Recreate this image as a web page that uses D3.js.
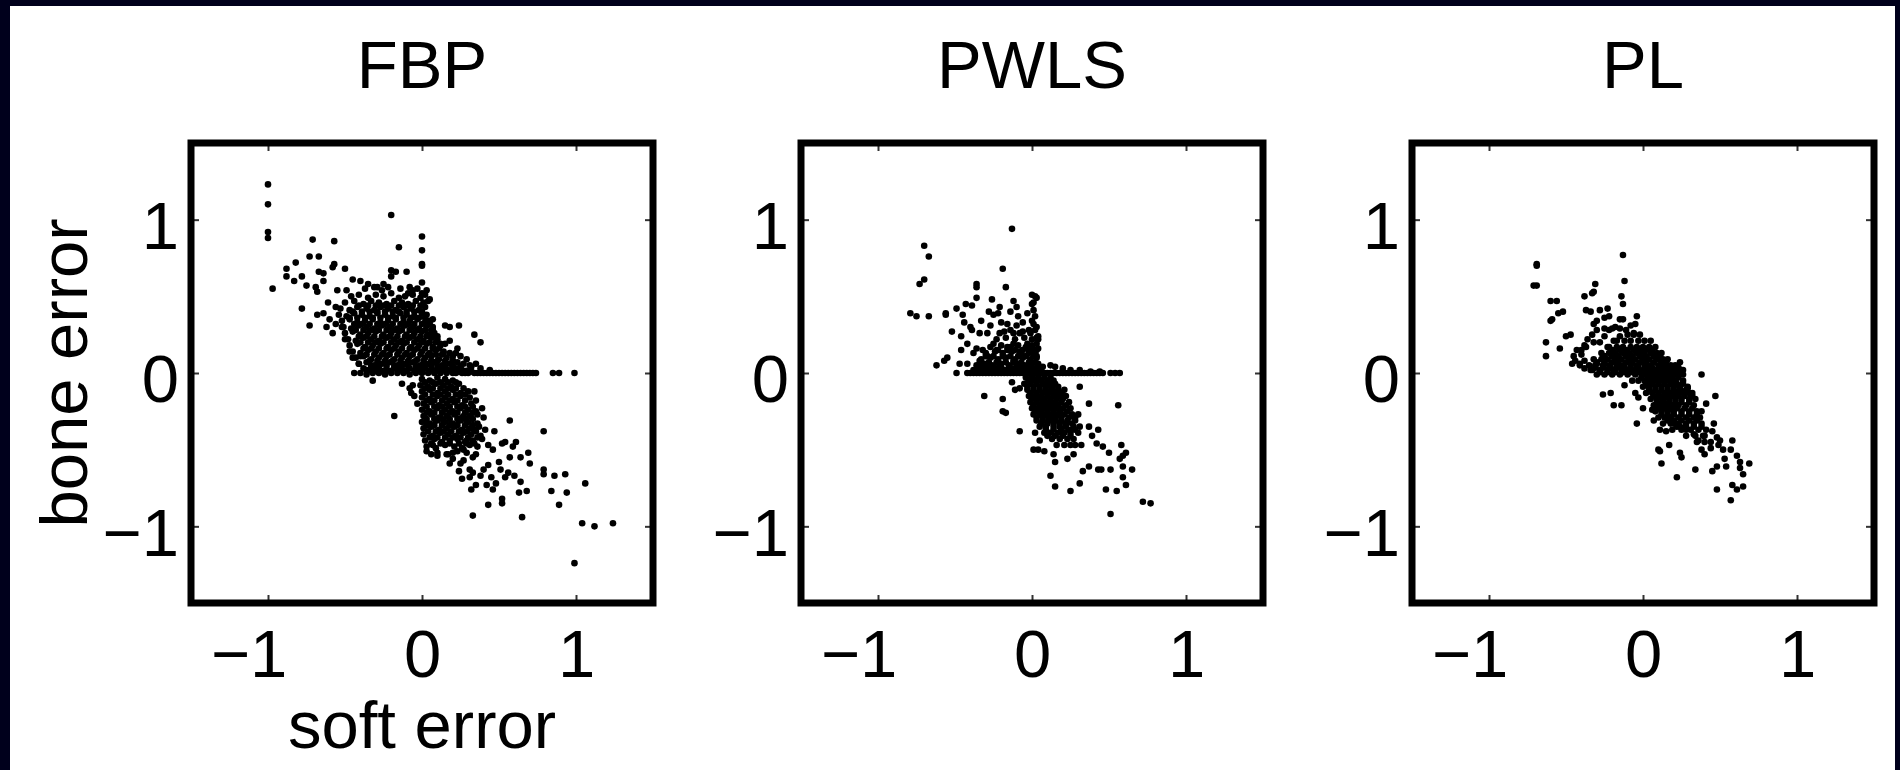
<!DOCTYPE html>
<html>
<head>
<meta charset="utf-8">
<script src="https://cdn.jsdelivr.net/npm/d3@7"></script>
<style>
html, body { margin: 0; padding: 0; background: #00001c; }
svg { display: block; }
</style>
</head>
<body>
<svg id="chart" width="1900" height="770"></svg>
<script>
// Panel titles, shared axis settings and axis titles
const panelTitles = ["FBP", "PWLS", "PL"];
const tickValues = [-1, 0, 1];
const axisDomain = [-1.5, 1.5];
const xAxisTitle = "soft error";
const yAxisTitle = "bone error";

// [soft error, bone error] pairs, one list per reconstruction method
const fbpPoints = [
  [-1.00,1.23],[-1.00,1.10],[-1.00,0.92],[-1.00,0.88],[-0.97,0.55],
  [-0.71,0.87],[-0.57,0.86],[-0.82,0.72],[-0.88,0.68],[-0.88,0.63],[-0.83,0.60],[-0.78,0.63],
  [-0.73,0.76],[-0.67,0.76],[-0.67,0.66],[-0.64,0.65],[-0.75,0.57],[-0.69,0.56],[-0.68,0.53],
  [-0.64,0.60],[-0.58,0.69],[-0.57,0.71],[-0.50,0.68],[-0.55,0.54],[-0.49,0.54],[-0.78,0.42],
  [-0.73,0.31],[-0.68,0.38],[-0.64,0.39],[-0.58,0.26],[-0.56,0.32],[-0.61,0.46],[-0.56,0.43],
  [-0.45,0.61],[-0.40,0.60],[-0.20,0.67],[-0.17,0.66],[-0.10,0.66],[-0.20,0.63],
  [-0.20,1.03],[-0.15,0.82],[0.00,0.89],[0.00,0.80],[0.00,0.71],[0.00,0.70],[0.00,0.59],
  [0.00,0.52],[0.02,0.51],[-0.06,0.54],[-0.09,0.52],[-0.25,0.58],[-0.29,0.56],[-0.35,0.58],
  [0.03,0.54],[0.05,0.48],[0.04,0.47],[0.07,0.35],
  [-0.37,0.55],[-0.31,0.56],[-0.26,0.54],[-0.22,0.56],[-0.14,0.55],[-0.08,0.56],[-0.03,0.55],
  [-0.46,0.50],[-0.41,0.51],[-0.35,0.49],[-0.30,0.51],[-0.25,0.50],[-0.20,0.52],[-0.15,0.49],[-0.11,0.50],[-0.06,0.51],[-0.01,0.49],
  [-0.50,0.46],[-0.44,0.47],[-0.38,0.45],[-0.33,0.47],[-0.28,0.46],[-0.23,0.45],[-0.18,0.47],[-0.13,0.46],[-0.09,0.45],[-0.04,0.47],[0.01,0.46],
  [-0.53,0.42],[-0.47,0.41],[-0.42,0.43],[-0.36,0.42],[-0.31,0.41],[-0.27,0.43],[-0.22,0.42],[-0.17,0.41],[-0.12,0.43],[-0.07,0.42],[-0.02,0.41],[0.02,0.43],
  [-0.54,0.38],[-0.49,0.37],[-0.44,0.39],[-0.39,0.38],[-0.34,0.37],[-0.29,0.39],[-0.24,0.38],[-0.19,0.37],[-0.14,0.39],[-0.10,0.38],[-0.05,0.37],[0.00,0.39],[0.03,0.38],
  [-0.52,0.34],[-0.47,0.35],[-0.42,0.33],[-0.37,0.34],[-0.32,0.35],[-0.27,0.33],[-0.22,0.34],[-0.17,0.35],[-0.12,0.33],[-0.08,0.34],[-0.03,0.35],[0.02,0.33],[0.05,0.34],
  [-0.51,0.30],[-0.46,0.29],[-0.41,0.31],[-0.36,0.30],[-0.31,0.29],[-0.26,0.31],[-0.21,0.30],[-0.16,0.29],[-0.11,0.31],[-0.06,0.30],[-0.02,0.29],[0.03,0.31],[0.07,0.30],
  [-0.50,0.26],[-0.45,0.27],[-0.40,0.25],[-0.35,0.26],[-0.30,0.27],[-0.25,0.25],[-0.20,0.26],[-0.15,0.27],[-0.10,0.25],[-0.05,0.26],[0.00,0.27],[0.04,0.25],[0.08,0.26],
  [-0.48,0.22],[-0.43,0.21],[-0.38,0.23],[-0.33,0.22],[-0.28,0.21],[-0.23,0.23],[-0.18,0.22],[-0.13,0.21],[-0.08,0.23],[-0.03,0.22],[0.01,0.21],[0.06,0.23],[0.10,0.22],
  [-0.47,0.18],[-0.42,0.19],[-0.37,0.17],[-0.32,0.18],[-0.27,0.19],[-0.22,0.17],[-0.17,0.18],[-0.12,0.19],[-0.07,0.17],[-0.02,0.18],[0.03,0.19],[0.07,0.17],[0.12,0.18],[0.15,0.19],
  [-0.45,0.14],[-0.40,0.13],[-0.35,0.15],[-0.30,0.14],[-0.25,0.13],[-0.20,0.15],[-0.15,0.14],[-0.10,0.13],[-0.05,0.15],[0.00,0.14],[0.05,0.13],[0.09,0.15],[0.14,0.14],[0.18,0.13],
  [-0.43,0.10],[-0.38,0.11],[-0.33,0.09],[-0.28,0.10],[-0.23,0.11],[-0.18,0.09],[-0.13,0.10],[-0.08,0.11],[-0.03,0.09],[0.02,0.10],[0.06,0.11],[0.11,0.09],[0.16,0.10],[0.20,0.11],
  [-0.41,0.06],[-0.36,0.07],[-0.31,0.05],[-0.26,0.06],[-0.21,0.07],[-0.16,0.05],[-0.11,0.06],[-0.06,0.07],[-0.01,0.05],[0.04,0.06],[0.08,0.07],[0.13,0.05],[0.18,0.06],[0.23,0.07],
  [-0.38,0.03],[-0.33,0.02],[-0.28,0.03],[-0.23,0.02],[-0.18,0.03],[-0.13,0.02],[-0.08,0.03],[-0.03,0.02],[0.02,0.03],[0.07,0.02],[0.12,0.03],[0.17,0.02],[0.22,0.03],[0.26,0.02],
  [-0.44,0.00],[-0.40,0.00],[-0.36,-0.01],[-0.32,0.00],[-0.28,0.00],[-0.24,-0.01],[-0.20,0.00],[-0.16,0.00],[-0.12,0.00],[-0.08,-0.01],[-0.04,0.00],[0.00,0.00],
  [0.04,0.00],[0.08,0.00],[0.12,0.00],[0.16,0.00],[0.20,0.00],[0.22,0.00],[0.24,0.01],[0.26,0.00],[0.28,0.00],[0.30,0.00],[0.32,0.01],[0.34,0.00],
  [0.36,0.00],[0.38,0.00],[0.40,0.00],[0.42,0.00],[0.44,0.00],[0.46,0.00],[0.48,0.00],[0.50,0.00],[0.52,0.00],[0.54,0.00],[0.56,0.00],[0.58,0.00],
  [0.60,0.00],[0.62,0.00],[0.64,0.00],[0.66,0.00],[0.68,0.00],[0.70,0.00],[0.72,0.00],[0.74,0.00],[0.85,0.00],[0.89,0.00],[0.99,0.00],
  [0.10,0.24],[0.12,0.19],[0.18,0.21],[0.14,0.13],[0.20,0.08],[0.27,0.06],[0.32,0.04],[0.38,0.03],[0.44,0.02],[0.07,0.28],[0.04,0.32],
  [0.15,0.31],[0.18,0.30],[0.24,0.31],[0.23,0.16],[0.34,0.25],[0.38,0.20],[0.25,0.11],[0.29,0.09],[0.31,0.05],[0.35,0.06],[0.22,0.13],
  [-0.40,0.11],[-0.41,0.06],[-0.36,0.02],[-0.52,0.30],[-0.50,0.22],[-0.47,0.14],[-0.45,0.10],[-0.60,0.35],[-0.62,0.30],
  [-0.32,-0.05],[-0.18,-0.28],[-0.13,-0.07],[-0.08,-0.10],[-0.07,-0.13],[-0.05,-0.15],[-0.06,-0.08],[-0.03,-0.20],
  [0.00,-0.04],[0.05,-0.05],[0.10,-0.03],[0.15,-0.04],[0.20,-0.05],
  [-0.01,-0.08],[0.04,-0.09],[0.09,-0.07],[0.14,-0.08],[0.19,-0.09],[0.24,-0.07],
  [0.00,-0.12],[0.05,-0.11],[0.10,-0.13],[0.15,-0.12],[0.20,-0.11],[0.25,-0.13],[0.30,-0.12],
  [0.00,-0.16],[0.05,-0.17],[0.10,-0.15],[0.15,-0.16],[0.20,-0.17],[0.25,-0.15],[0.31,-0.16],
  [0.01,-0.20],[0.06,-0.19],[0.11,-0.21],[0.16,-0.20],[0.21,-0.19],[0.26,-0.21],[0.32,-0.20],
  [0.00,-0.24],[0.05,-0.25],[0.10,-0.23],[0.15,-0.24],[0.20,-0.25],[0.25,-0.23],[0.30,-0.24],[0.35,-0.25],
  [0.01,-0.28],[0.06,-0.27],[0.11,-0.29],[0.16,-0.28],[0.21,-0.27],[0.26,-0.29],[0.31,-0.28],[0.36,-0.27],
  [0.00,-0.32],[0.05,-0.33],[0.10,-0.31],[0.15,-0.32],[0.20,-0.33],[0.25,-0.31],[0.30,-0.32],[0.36,-0.33],
  [0.01,-0.36],[0.06,-0.35],[0.11,-0.37],[0.16,-0.36],[0.21,-0.35],[0.26,-0.37],[0.31,-0.36],[0.37,-0.35],[0.41,-0.37],
  [0.01,-0.40],[0.07,-0.41],[0.12,-0.39],[0.17,-0.40],[0.22,-0.41],[0.27,-0.39],[0.32,-0.40],[0.38,-0.41],
  [0.02,-0.44],[0.08,-0.43],[0.13,-0.45],[0.18,-0.44],[0.23,-0.43],[0.28,-0.45],[0.33,-0.44],[0.39,-0.43],
  [0.03,-0.48],[0.09,-0.49],[0.15,-0.47],[0.21,-0.48],[0.26,-0.49],[0.31,-0.47],[0.36,-0.48],
  [0.10,-0.52],[0.17,-0.53],[0.23,-0.51],[0.29,-0.52],[0.35,-0.53],
  [0.20,-0.56],[0.27,-0.57],[0.33,-0.55],
  [0.57,-0.31],[0.61,-0.45],[0.59,-0.48],[0.57,-0.55],[0.64,-0.55],[0.54,-0.68],[0.48,-0.72],[0.46,-0.76],[0.45,-0.68],
  [0.35,-0.73],[0.32,-0.76],[0.26,-0.69],[0.33,-0.65],[0.40,-0.63],[0.43,-0.60],[0.50,-0.58],[0.25,-0.59],[0.18,-0.59],
  [0.20,-0.52],[0.27,-0.50],[0.29,-0.44],[0.34,-0.37],[0.40,-0.29],[0.39,-0.23],[0.35,-0.18],[0.34,-0.12],
  [0.69,-0.52],[0.70,-0.59],[0.63,-0.78],[0.68,-0.77],[0.56,-0.65],[0.64,-0.71],[0.52,-0.85],[0.52,-0.82],[0.43,-0.86],
  [0.33,-0.93],[0.65,-0.94],[0.79,-0.63],[0.79,-0.66],[0.86,-0.67],[0.93,-0.66],[0.84,-0.77],[0.94,-0.78],[0.89,-0.86],
  [0.79,-0.38],[1.06,-0.72],[1.04,-0.98],[1.12,-1.00],[1.24,-0.98],[0.99,-1.24],
  [0.47,-0.38],[0.52,-0.46],[0.54,-0.45],[0.46,-0.50],[0.43,-0.47],[0.51,-0.63],[0.60,-0.67],[0.38,-0.67],[0.31,-0.68],
  [0.42,-0.73],[0.31,-0.63],[0.24,-0.64],[0.16,-0.53],[0.10,-0.54],[0.06,-0.53],[0.03,-0.51],[0.07,-0.47],[0.27,-0.28]
];

// densest part of the FBP clusters
const fbpCorePoints = [
  [-0.41,0.44],[-0.35,0.44],[-0.30,0.44],[-0.25,0.44],[-0.20,0.44],[-0.15,0.44],[-0.10,0.44],[-0.06,0.44],[-0.01,0.44],
  [-0.45,0.40],[-0.39,0.40],[-0.34,0.40],[-0.29,0.40],[-0.24,0.40],[-0.19,0.40],[-0.15,0.40],[-0.10,0.40],[-0.05,0.40],[0.00,0.40],
  [-0.47,0.36],[-0.42,0.36],[-0.37,0.36],[-0.32,0.36],[-0.27,0.36],[-0.22,0.36],[-0.17,0.36],[-0.12,0.36],[-0.07,0.36],[-0.02,0.36],[0.02,0.36],
  [-0.44,0.32],[-0.39,0.32],[-0.34,0.32],[-0.29,0.32],[-0.24,0.32],[-0.19,0.32],[-0.14,0.32],[-0.09,0.32],[-0.05,0.32],[0.00,0.32],[0.05,0.32],
  [-0.43,0.28],[-0.38,0.28],[-0.33,0.28],[-0.28,0.28],[-0.23,0.28],[-0.18,0.28],[-0.13,0.28],[-0.08,0.28],[-0.03,0.28],[0.02,0.28],[0.06,0.28],
  [-0.41,0.24],[-0.36,0.24],[-0.31,0.24],[-0.26,0.24],[-0.21,0.24],[-0.16,0.24],[-0.11,0.24],[-0.06,0.24],[-0.01,0.24],[0.03,0.24],[0.07,0.24],
  [-0.40,0.20],[-0.35,0.20],[-0.30,0.20],[-0.25,0.20],[-0.20,0.20],[-0.15,0.20],[-0.10,0.20],[-0.05,0.20],[0.00,0.20],[0.05,0.20],[0.09,0.20],
  [-0.38,0.16],[-0.33,0.16],[-0.28,0.16],[-0.23,0.16],[-0.18,0.16],[-0.13,0.16],[-0.08,0.16],[-0.03,0.16],[0.02,0.16],[0.07,0.16],[0.11,0.16],
  [-0.36,0.12],[-0.31,0.12],[-0.26,0.12],[-0.21,0.12],[-0.16,0.12],[-0.11,0.12],[-0.06,0.12],[-0.01,0.12],[0.04,0.12],[0.09,0.12],[0.13,0.12],
  [-0.34,0.08],[-0.29,0.08],[-0.24,0.08],[-0.19,0.08],[-0.14,0.08],[-0.09,0.08],[-0.04,0.08],[0.01,0.08],[0.06,0.08],[0.10,0.08],[0.15,0.08],[0.20,0.08],
  [-0.33,0.045],[-0.28,0.045],[-0.23,0.045],[-0.18,0.045],[-0.13,0.045],[-0.09,0.045],[-0.04,0.045],[0.01,0.045],[0.06,0.045],[0.10,0.045],[0.15,0.045],[0.20,0.045],[0.25,0.045],
  [-0.35,0.015],[-0.30,0.015],[-0.25,0.015],[-0.20,0.015],[-0.15,0.015],[-0.10,0.015],[-0.05,0.015],[0.00,0.015],[0.05,0.015],[0.10,0.015],[0.15,0.015],[0.19,0.015],[0.24,0.015],[0.29,0.015],
  [0.02,-0.06],[0.07,-0.06],[0.12,-0.06],[0.17,-0.06],[0.22,-0.06],
  [0.02,-0.10],[0.07,-0.10],[0.12,-0.10],[0.17,-0.10],[0.22,-0.10],[0.27,-0.10],
  [0.02,-0.14],[0.07,-0.14],[0.12,-0.14],[0.17,-0.14],[0.22,-0.14],[0.28,-0.14],
  [0.03,-0.18],[0.08,-0.18],[0.13,-0.18],[0.18,-0.18],[0.23,-0.18],[0.28,-0.18],
  [0.03,-0.22],[0.08,-0.22],[0.13,-0.22],[0.18,-0.22],[0.23,-0.22],[0.28,-0.22],[0.33,-0.22],
  [0.03,-0.26],[0.08,-0.26],[0.13,-0.26],[0.18,-0.26],[0.23,-0.26],[0.28,-0.26],[0.33,-0.26],
  [0.03,-0.30],[0.08,-0.30],[0.13,-0.30],[0.18,-0.30],[0.23,-0.30],[0.28,-0.30],[0.33,-0.30],
  [0.03,-0.34],[0.08,-0.34],[0.13,-0.34],[0.18,-0.34],[0.23,-0.34],[0.28,-0.34],[0.33,-0.34],
  [0.04,-0.38],[0.09,-0.38],[0.14,-0.38],[0.19,-0.38],[0.24,-0.38],[0.29,-0.38],[0.35,-0.38],
  [0.05,-0.42],[0.10,-0.42],[0.15,-0.42],[0.20,-0.42],[0.25,-0.42],[0.30,-0.42],[0.36,-0.42],
  [0.06,-0.46],[0.12,-0.46],[0.18,-0.46],[0.24,-0.46],[0.29,-0.46],[0.34,-0.46]
];

const pwlsPoints = [
  [-0.13,0.94],[-0.70,0.83],[-0.67,0.76],[-0.70,0.61],[-0.73,0.58],[-0.79,0.39],[-0.75,0.37],[-0.67,0.37],
  [-0.19,0.68],[-0.36,0.58],[-0.36,0.56],[-0.17,0.56],[0.00,0.51],[0.03,0.49],[0.01,0.46],[-0.26,0.48],
  [-0.36,0.49],[-0.43,0.45],[-0.39,0.44],[-0.49,0.42],[-0.56,0.39],[-0.56,0.38],[-0.45,0.38],[-0.52,0.27],
  [-0.62,0.05],[-0.57,0.08],[-0.55,0.10],[-0.49,0.00],[-0.28,0.40],[-0.39,0.28],[-0.34,0.26],[-0.47,0.06],
  [-0.44,0.33],[-0.40,0.30],[-0.46,0.24],[-0.46,0.15],[-0.36,0.16],[-0.42,0.19],[-0.29,0.26],[-0.33,0.34],
  [-0.27,0.31],[-0.25,0.38],[-0.21,0.43],[-0.22,0.39],[-0.14,0.40],[-0.12,0.47],[-0.10,0.43],[-0.09,0.37],
  [-0.03,0.39],[-0.06,0.33],[-0.02,0.28],[0.01,0.32],[0.02,0.28],[0.04,0.24],[0.03,0.19],[-0.03,0.19],
  [-0.08,0.26],[-0.14,0.28],[-0.16,0.32],[-0.21,0.26],[-0.25,0.19],[-0.32,0.15],[-0.38,0.13],[-0.42,0.06],
  [-0.34,0.08],[-0.29,0.11],[-0.23,0.15],[-0.16,0.17],[-0.12,0.19],[-0.08,0.14],[-0.02,0.13],[0.01,0.15],
  [0.04,0.06],[0.07,0.04],[-0.12,0.08],[-0.21,0.06],[-0.27,0.04],[-0.34,0.03],[-0.08,0.05],[-0.03,0.04],
  [-0.38,0.02],[-0.33,0.03],[-0.28,0.02],[-0.23,0.03],[-0.18,0.02],[-0.13,0.03],[-0.08,0.02],[-0.03,0.03],[0.02,0.02],[0.06,0.03],
  [-0.36,0.05],[-0.31,0.06],[-0.26,0.05],[-0.20,0.06],[-0.15,0.05],[-0.10,0.06],[-0.05,0.05],[0.00,0.06],[0.04,0.05],
  [-0.33,0.09],[-0.27,0.10],[-0.22,0.09],[-0.17,0.10],[-0.11,0.09],[-0.06,0.10],[-0.01,0.09],[0.03,0.10],
  [-0.30,0.13],[-0.24,0.14],[-0.19,0.13],[-0.13,0.14],[-0.07,0.13],[-0.02,0.14],[0.02,0.13],
  [-0.27,0.17],[-0.20,0.18],[-0.14,0.17],[-0.09,0.18],[-0.04,0.17],[0.00,0.18],
  [-0.23,0.22],[-0.17,0.23],[-0.11,0.22],[-0.05,0.23],[0.00,0.22],[0.03,0.23],
  [-0.18,0.27],[-0.12,0.26],[-0.06,0.27],[-0.01,0.26],[-0.20,0.33],[-0.10,0.31],
  [0.02,0.50],[0.00,0.45],[0.01,0.41],[0.02,0.37],[0.00,0.34],[0.03,0.30],[0.04,0.22],[0.04,0.16],[0.03,0.11],
  [-0.42,0.00],[-0.40,0.00],[-0.38,0.00],[-0.36,0.00],[-0.34,0.00],[-0.32,0.00],[-0.30,0.00],[-0.28,0.00],
  [-0.26,0.00],[-0.24,0.00],[-0.22,0.00],[-0.20,0.00],[-0.18,0.00],[-0.16,0.00],[-0.14,0.00],[-0.12,0.00],
  [-0.10,0.00],[-0.08,0.00],[-0.06,0.00],[-0.04,0.00],[-0.02,0.00],[0.00,0.00],[0.02,0.00],[0.04,0.00],
  [0.06,0.00],[0.08,0.00],[0.10,0.00],[0.12,0.00],[0.14,0.00],[0.16,0.00],[0.18,0.00],[0.20,0.00],
  [0.22,0.00],[0.24,0.00],[0.26,0.00],[0.28,0.00],[0.30,0.00],[0.32,0.00],[0.34,0.00],[0.36,0.00],
  [0.38,0.00],[0.40,0.00],[0.42,0.00],[0.44,0.00],[0.46,0.00],[0.51,0.00],[0.54,0.00],[0.57,0.00],
  [0.20,0.03],[0.25,0.02],[0.31,0.02],[0.38,0.01],[0.44,0.01],[0.15,0.04],[0.12,0.05],
  [-0.31,-0.15],[-0.19,-0.17],[-0.19,-0.25],[-0.17,-0.26],[-0.08,-0.38],[-0.13,-0.06],[-0.08,-0.10],[-0.11,-0.11],
  [-0.04,-0.03],[0.00,-0.03],[0.04,-0.03],[0.08,-0.03],[0.12,-0.03],
  [-0.05,-0.07],[-0.01,-0.07],[0.03,-0.07],[0.07,-0.07],[0.11,-0.07],[0.15,-0.07],
  [-0.03,-0.11],[0.01,-0.11],[0.05,-0.11],[0.09,-0.11],[0.13,-0.11],[0.17,-0.11],[0.21,-0.11],
  [-0.02,-0.15],[0.02,-0.15],[0.06,-0.15],[0.10,-0.15],[0.14,-0.15],[0.18,-0.15],[0.22,-0.15],
  [-0.01,-0.19],[0.03,-0.19],[0.07,-0.19],[0.11,-0.19],[0.15,-0.19],[0.19,-0.19],[0.24,-0.19],
  [0.00,-0.23],[0.04,-0.23],[0.08,-0.23],[0.12,-0.23],[0.16,-0.23],[0.20,-0.23],[0.25,-0.23],
  [0.01,-0.27],[0.05,-0.27],[0.09,-0.27],[0.13,-0.27],[0.17,-0.27],[0.21,-0.27],[0.26,-0.27],[0.30,-0.27],
  [0.03,-0.31],[0.07,-0.31],[0.11,-0.31],[0.15,-0.31],[0.19,-0.31],[0.23,-0.31],[0.28,-0.31],
  [0.05,-0.35],[0.09,-0.35],[0.14,-0.35],[0.18,-0.35],[0.22,-0.35],[0.27,-0.35],[0.31,-0.35],
  [0.08,-0.39],[0.12,-0.39],[0.17,-0.39],[0.21,-0.39],[0.25,-0.39],[0.30,-0.39],
  [0.13,-0.43],[0.18,-0.43],[0.23,-0.43],[0.27,-0.43],[0.16,-0.47],[0.21,-0.47],[0.25,-0.47],
  [0.56,-0.21],[0.58,-0.47],[0.61,-0.52],[0.59,-0.54],[0.57,-0.56],[0.65,-0.63],[0.59,-0.61],[0.59,-0.68],
  [0.61,-0.73],[0.55,-0.77],[0.72,-0.84],[0.77,-0.85],[0.51,-0.92],[0.48,-0.76],[0.51,-0.63],[0.45,-0.63],
  [0.43,-0.63],[0.37,-0.61],[0.33,-0.64],[0.31,-0.72],[0.25,-0.77],[0.15,-0.74],[0.12,-0.67],[0.15,-0.58],
  [0.14,-0.53],[0.08,-0.51],[0.04,-0.50],[0.01,-0.50],[0.23,-0.56],[0.27,-0.53],[0.28,-0.47],[0.32,-0.47],
  [0.50,-0.52],[0.46,-0.48],[0.42,-0.46],[0.39,-0.41],[0.43,-0.37],[0.37,-0.35],[0.37,-0.20],[0.31,-0.09],
  [0.02,-0.39],[0.05,-0.44],[0.10,-0.41]
];

// densest part of the PWLS clusters
const pwlsCorePoints = [
  [-0.35,0.035],[-0.30,0.035],[-0.25,0.035],[-0.20,0.035],[-0.15,0.035],[-0.10,0.035],[-0.05,0.035],[0.00,0.035],[0.04,0.035],
  [-0.33,0.07],[-0.28,0.07],[-0.23,0.07],[-0.17,0.07],[-0.12,0.07],[-0.07,0.07],[-0.02,0.07],[0.02,0.07],
  [-0.30,0.11],[-0.25,0.11],[-0.19,0.11],[-0.14,0.11],[-0.09,0.11],[-0.04,0.11],[0.01,0.11],
  [-0.22,0.15],[-0.16,0.15],[-0.11,0.15],[-0.06,0.15],[-0.01,0.15],[0.03,0.15],
  [-0.02,-0.05],[0.02,-0.05],[0.06,-0.05],[0.10,-0.05],[0.14,-0.05],
  [-0.03,-0.09],[0.01,-0.09],[0.05,-0.09],[0.09,-0.09],[0.13,-0.09],[0.17,-0.09],
  [-0.01,-0.13],[0.03,-0.13],[0.07,-0.13],[0.11,-0.13],[0.15,-0.13],[0.19,-0.13],
  [0.00,-0.17],[0.04,-0.17],[0.08,-0.17],[0.12,-0.17],[0.16,-0.17],[0.20,-0.17],
  [0.01,-0.21],[0.05,-0.21],[0.09,-0.21],[0.13,-0.21],[0.17,-0.21],[0.22,-0.21],
  [0.02,-0.25],[0.06,-0.25],[0.10,-0.25],[0.14,-0.25],[0.18,-0.25],[0.23,-0.25],
  [0.03,-0.29],[0.07,-0.29],[0.11,-0.29],[0.15,-0.29],[0.19,-0.29],[0.24,-0.29],[0.28,-0.29],
  [0.06,-0.33],[0.10,-0.33],[0.14,-0.33],[0.18,-0.33],[0.22,-0.33],[0.26,-0.33],
  [0.09,-0.37],[0.14,-0.37],[0.19,-0.37],[0.24,-0.37],[0.28,-0.37],
  [0.15,-0.41],[0.20,-0.41],[0.25,-0.41]
];

const plPoints = [
  [-0.13,0.77],[-0.69,0.71],[-0.69,0.70],[-0.71,0.57],[-0.69,0.57],[-0.12,0.60],[-0.31,0.58],[-0.32,0.53],
  [-0.33,0.52],[-0.38,0.50],[-0.14,0.50],[-0.13,0.45],[-0.60,0.47],[-0.56,0.47],[-0.59,0.35],[-0.60,0.34],
  [-0.55,0.39],[-0.52,0.40],[-0.63,0.20],[-0.63,0.11],[-0.54,0.16],[-0.50,0.24],[-0.47,0.25],[-0.45,0.11],
  [-0.46,0.06],[-0.37,0.41],[-0.34,0.40],[-0.28,0.41],[-0.23,0.42],[-0.22,0.37],[-0.25,0.36],[-0.32,0.32],
  [-0.30,0.34],[-0.04,0.37],[-0.05,0.32],[-0.13,0.35],[-0.15,0.35],[-0.08,0.31],[-0.25,0.29],[-0.20,0.29],
  [-0.18,0.30],[-0.15,0.29],[-0.26,-0.14],[-0.21,-0.13],[-0.19,-0.21],[-0.14,-0.21],[-0.12,-0.08],[-0.07,-0.05],
  [-0.04,-0.33],[-0.05,-0.13],[-0.03,-0.16],[0.00,-0.23],[0.06,-0.24],[0.38,-0.01],[0.47,-0.15],[0.41,-0.20],
  [0.38,-0.25],[0.46,-0.33],[0.45,-0.38],[0.29,-0.10],[0.32,-0.13],[0.15,0.08],[0.24,0.07],[0.26,0.02],
  [0.58,-0.44],[0.57,-0.50],[0.61,-0.54],[0.63,-0.58],[0.69,-0.59],[0.65,-0.66],[0.58,-0.73],[0.61,-0.76],
  [0.65,-0.74],[0.63,-0.62],[0.57,-0.83],[0.48,-0.76],[0.45,-0.64],[0.48,-0.61],[0.34,-0.63],[0.22,-0.68],
  [0.12,-0.59],[0.11,-0.51],[0.10,-0.50],[0.17,-0.47],[0.24,-0.52],[0.25,-0.55],[0.52,-0.50],[0.53,-0.56],
  [0.54,-0.61],[0.50,-0.44],[0.49,-0.47],[0.44,-0.49],[0.40,-0.53],[0.38,-0.50],
  [-0.40,0.15],[-0.37,0.17],[-0.32,0.20],[-0.38,0.08],[-0.41,0.06],[-0.34,0.02],[-0.30,0.06],[-0.26,0.11],
  [-0.23,0.17],[-0.19,0.21],[-0.15,0.24],[-0.11,0.28],[-0.06,0.26],
  [-0.43,0.15],[-0.40,0.12],[-0.38,0.18],[-0.36,0.22],[-0.33,0.25],[-0.30,0.28],[-0.28,0.20],[-0.25,0.24],
  [-0.22,0.28],[-0.41,0.05],[-0.38,0.03],[-0.44,0.08],
  [0.07,-0.31],[0.11,-0.37],[0.15,-0.38],[0.20,-0.33],[0.24,-0.35],[0.28,-0.37],[0.33,-0.40],[0.36,-0.44],
  [0.40,-0.41],[0.44,-0.45],[0.48,-0.42],
  [-0.10,0.25],[-0.06,0.25],[-0.02,0.25],
  [-0.17,0.21],[-0.12,0.21],[-0.08,0.21],[-0.03,0.21],[0.01,0.21],[0.05,0.21],
  [-0.22,0.17],[-0.17,0.17],[-0.13,0.17],[-0.08,0.17],[-0.04,0.17],[0.00,0.17],[0.04,0.17],[0.08,0.17],
  [-0.27,0.13],[-0.22,0.13],[-0.18,0.13],[-0.13,0.13],[-0.09,0.13],[-0.04,0.13],[0.00,0.13],[0.05,0.13],[0.09,0.13],[0.12,0.13],
  [-0.32,0.09],[-0.27,0.09],[-0.23,0.09],[-0.18,0.09],[-0.14,0.09],[-0.09,0.09],[-0.05,0.09],[0.00,0.09],[0.04,0.09],[0.09,0.09],[0.13,0.09],[0.16,0.09],
  [-0.35,0.05],[-0.31,0.05],[-0.26,0.05],[-0.22,0.05],[-0.17,0.05],[-0.13,0.05],[-0.08,0.05],[-0.04,0.05],[0.01,0.05],[0.05,0.05],[0.10,0.05],[0.14,0.05],[0.18,0.05],[0.21,0.05],
  [-0.33,0.02],[-0.28,0.02],[-0.23,0.02],[-0.19,0.02],[-0.14,0.02],[-0.10,0.02],[-0.05,0.02],[0.00,0.02],[0.04,0.02],[0.08,0.02],[0.13,0.02],[0.17,0.02],[0.21,0.02],[0.25,0.02],
  [-0.30,-0.01],[-0.25,-0.01],[-0.20,-0.01],[-0.15,-0.01],[-0.10,-0.01],[-0.05,-0.01],[0.00,-0.01],[0.05,-0.01],[0.09,-0.01],[0.13,-0.01],[0.17,-0.01],[0.21,-0.01],[0.26,-0.01],
  [-0.03,-0.05],[0.01,-0.05],[0.05,-0.05],[0.09,-0.05],[0.13,-0.05],[0.17,-0.05],[0.21,-0.05],[0.26,-0.05],
  [0.00,-0.09],[0.04,-0.09],[0.08,-0.09],[0.12,-0.09],[0.16,-0.09],[0.20,-0.09],[0.24,-0.09],[0.29,-0.09],
  [0.02,-0.13],[0.06,-0.13],[0.10,-0.13],[0.14,-0.13],[0.18,-0.13],[0.22,-0.13],[0.26,-0.13],[0.30,-0.13],
  [0.05,-0.17],[0.09,-0.17],[0.13,-0.17],[0.17,-0.17],[0.21,-0.17],[0.25,-0.17],[0.30,-0.17],[0.34,-0.17],
  [0.07,-0.21],[0.11,-0.21],[0.15,-0.21],[0.19,-0.21],[0.23,-0.21],[0.28,-0.21],[0.33,-0.21],
  [0.08,-0.25],[0.12,-0.25],[0.16,-0.25],[0.20,-0.25],[0.25,-0.25],[0.30,-0.25],[0.35,-0.25],
  [0.10,-0.29],[0.14,-0.29],[0.18,-0.29],[0.23,-0.29],[0.28,-0.29],[0.33,-0.29],[0.37,-0.29],
  [0.13,-0.33],[0.18,-0.33],[0.23,-0.33],[0.28,-0.33],[0.33,-0.33],[0.38,-0.33],
  [0.19,-0.37],[0.25,-0.37],[0.31,-0.37],[0.36,-0.37],[0.41,-0.37],
  [0.28,-0.41],[0.34,-0.41],[0.39,-0.41],[0.35,-0.45],[0.40,-0.45]
];

// densest part of the PL band
const plCorePoints = [
  [-0.20,0.15],[-0.15,0.15],[-0.11,0.15],[-0.06,0.15],[-0.02,0.15],[0.02,0.15],[0.06,0.15],
  [-0.25,0.11],[-0.20,0.11],[-0.16,0.11],[-0.11,0.11],[-0.07,0.11],[-0.02,0.11],[0.02,0.11],[0.07,0.11],[0.11,0.11],
  [-0.30,0.07],[-0.25,0.07],[-0.20,0.07],[-0.16,0.07],[-0.11,0.07],[-0.07,0.07],[-0.02,0.07],[0.02,0.07],[0.07,0.07],[0.12,0.07],[0.15,0.07],
  [-0.31,0.035],[-0.26,0.035],[-0.21,0.035],[-0.17,0.035],[-0.12,0.035],[-0.08,0.035],[-0.03,0.035],[0.02,0.035],[0.06,0.035],[0.11,0.035],[0.15,0.035],[0.19,0.035],[0.23,0.035],
  [-0.28,0.005],[-0.23,0.005],[-0.18,0.005],[-0.13,0.005],[-0.08,0.005],[-0.03,0.005],[0.02,0.005],[0.07,0.005],[0.11,0.005],[0.15,0.005],[0.19,0.005],[0.23,0.005],
  [-0.01,-0.03],[0.03,-0.03],[0.07,-0.03],[0.11,-0.03],[0.15,-0.03],[0.19,-0.03],[0.23,-0.03],
  [0.02,-0.07],[0.06,-0.07],[0.10,-0.07],[0.14,-0.07],[0.18,-0.07],[0.22,-0.07],[0.26,-0.07],
  [0.04,-0.11],[0.08,-0.11],[0.12,-0.11],[0.16,-0.11],[0.20,-0.11],[0.24,-0.11],[0.28,-0.11],
  [0.07,-0.15],[0.11,-0.15],[0.15,-0.15],[0.19,-0.15],[0.23,-0.15],[0.27,-0.15],[0.32,-0.15],
  [0.09,-0.19],[0.13,-0.19],[0.17,-0.19],[0.21,-0.19],[0.25,-0.19],[0.30,-0.19],
  [0.10,-0.23],[0.14,-0.23],[0.18,-0.23],[0.22,-0.23],[0.27,-0.23],[0.32,-0.23],
  [0.12,-0.27],[0.16,-0.27],[0.20,-0.27],[0.25,-0.27],[0.30,-0.27],[0.35,-0.27],
  [0.16,-0.31],[0.20,-0.31],[0.25,-0.31],[0.30,-0.31],[0.35,-0.31],
  [0.22,-0.35],[0.28,-0.35],[0.33,-0.35],[0.38,-0.35]
];

const panelPoints = [
  fbpPoints.concat(fbpCorePoints),
  pwlsPoints.concat(pwlsCorePoints),
  plPoints.concat(plCorePoints)
];

// Layout
const W = 1900, H = 770;
const panelCenters = [422, 1032, 1643];
const halfWidth = 231;
const plotTop = 143, plotBottom = 603;
const fontFamily = "'Liberation Sans', Arial, Helvetica, sans-serif";
const fontSize = 67;
const tickLabel = d3.format("d");

const svg = d3.select("#chart");
svg.append("rect").attr("width", W).attr("height", H).attr("fill", "#00001c");
svg.append("rect").attr("x", 10).attr("y", 6).attr("width", 1885).attr("height", H - 6).attr("fill", "#ffffff");

panelTitles.forEach((title, i) => {
  const cx = panelCenters[i];
  const x = d3.scaleLinear().domain(axisDomain).range([cx - halfWidth, cx + halfWidth]);
  const y = d3.scaleLinear().domain(axisDomain).range([plotBottom, plotTop]);
  const g = svg.append("g");

  // scatter
  g.append("g").selectAll("circle")
    .data(panelPoints[i])
    .join("circle")
    .attr("cx", d => x(d[0]))
    .attr("cy", d => y(d[1]))
    .attr("r", 3.3)
    .attr("fill", "#000");

  const styleAxis = (sel) => {
    sel.select(".domain").remove();
    sel.selectAll(".tick line").attr("stroke", "#333").attr("stroke-width", 2);
    sel.selectAll(".tick text")
      .attr("font-family", fontFamily)
      .attr("font-size", fontSize)
      .attr("fill", "#000");
  };

  // bottom axis with labels, minus sign hangs left of the digit
  g.append("g")
    .attr("transform", `translate(0,${plotBottom})`)
    .call(d3.axisBottom(x).tickValues(tickValues).tickFormat(tickLabel).tickSize(-8).tickPadding(26))
    .call(styleAxis)
    .call(s => s.selectAll(".tick text").attr("dx", d => d < 0 ? "-0.29em" : 0));

  // left axis with labels
  g.append("g")
    .attr("transform", `translate(${cx - halfWidth},0)`)
    .call(d3.axisLeft(y).tickValues(tickValues).tickFormat(tickLabel).tickSize(-8).tickPadding(12))
    .call(styleAxis)
    .call(s => s.selectAll(".tick text").attr("dy", "0.43em"));

  // top and right tick marks only
  g.append("g")
    .attr("transform", `translate(0,${plotTop})`)
    .call(d3.axisTop(x).tickValues(tickValues).tickSize(-8).tickFormat(""))
    .call(styleAxis);
  g.append("g")
    .attr("transform", `translate(${cx + halfWidth},0)`)
    .call(d3.axisRight(y).tickValues(tickValues).tickSize(-8).tickFormat(""))
    .call(styleAxis);

  // frame
  g.append("rect")
    .attr("x", cx - halfWidth).attr("y", plotTop)
    .attr("width", 2 * halfWidth).attr("height", plotBottom - plotTop)
    .attr("fill", "none").attr("stroke", "#000").attr("stroke-width", 7);

  // title
  g.append("text")
    .attr("x", cx).attr("y", 88)
    .attr("text-anchor", "middle")
    .attr("font-family", fontFamily).attr("font-size", fontSize)
    .text(title);
});

// axis titles on the first panel
svg.append("text")
  .attr("x", panelCenters[0]).attr("y", 748)
  .attr("text-anchor", "middle")
  .attr("font-family", fontFamily).attr("font-size", fontSize)
  .text(xAxisTitle);

svg.append("text")
  .attr("transform", `translate(87,${(plotTop + plotBottom) / 2}) rotate(-90)`)
  .attr("text-anchor", "middle")
  .attr("font-family", fontFamily).attr("font-size", fontSize)
  .text(yAxisTitle);
</script>
</body>
</html>
